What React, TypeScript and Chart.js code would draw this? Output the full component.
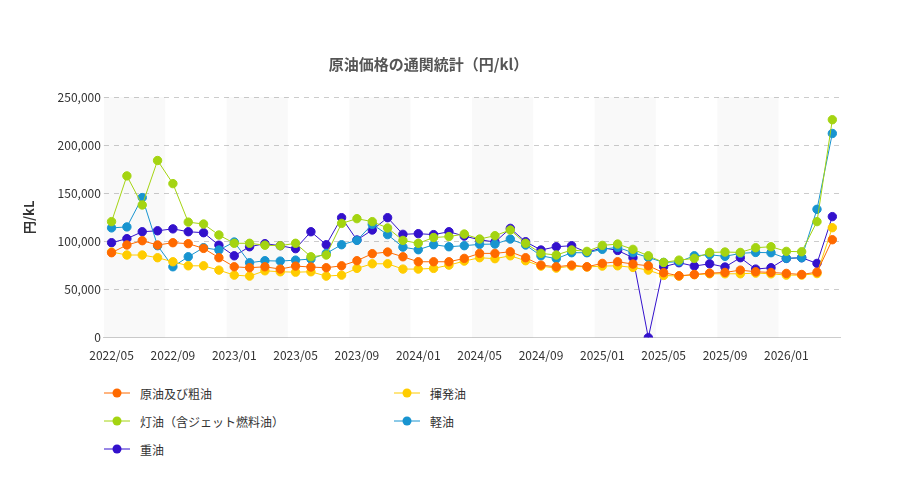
import React, { useEffect, useRef } from "react";
import { Chart, registerables } from "chart.js";
Chart.register(...registerables);

const months: string[] = [];
for (let i = 0; i < 48; i++) {
  const y = 2022 + Math.floor((4 + i) / 12);
  const m = ((4 + i) % 12) + 1;
  months.push(`${y}/${String(m).padStart(2, "0")}`);
}
const crude = [88.2,96.2,100.7,96.2,98.6,97.6,92.7,83,73.6,72.6,73.6,71.2,74.3,73.3,72.6,74.6,79.9,87.2,88.9,84,78.8,78.8,78.8,82.3,87.5,87.5,89.2,83,75.3,73.6,75.3,73.6,77.1,78.8,76.4,74.6,67.4,64.2,65.6,67,67.7,70.1,68.4,67.7,66.7,65.6,68,101.7].map(v=>v*1000);
const gasoline = [88.9,85.8,85.8,83,78.8,74.6,74.6,70.1,64.9,63.9,69.4,68.4,68,68.4,63.9,64.9,71.9,76.7,76.7,71.2,71.2,71.9,75.3,79.5,83,82,85,79.9,74.3,72.2,74.3,73.3,74.3,74.6,72.9,70.1,64.6,63.9,65.3,66.3,66.3,66.3,67,66.3,64.9,64.9,66.5,114.2].map(v=>v*1000);
const kerosene = [120.5,168,137.8,184,160,120,118,106.6,98,98,96,95.5,98,84,85.8,118.7,123.6,120.5,113.9,101,98,104,105,107.6,102.4,105.9,111.8,98,87.5,85.8,91,89.6,95.8,97.2,91.7,85,78.1,80.5,82.3,88.5,88.9,88.5,93.4,94.4,89.6,89.2,120.5,226.4].map(v=>v*1000);
const diesel = [114,115,145.5,95.5,73.6,84,93.4,91,99.3,77.8,79.9,79.5,80.5,81.6,87.5,96.5,101,117.7,107,94,91.3,96.5,94.4,95.5,96.9,97.2,102.4,96.2,85,82,88.2,88.2,91.7,93.8,88.2,83.3,78.1,78.8,85,86.1,84.4,87.5,88.5,88.2,82.3,83,133.3,212.1].map(v=>v*1000);
const fuelOil = [98.6,102.8,110,111,113,110,109,96,85,94.4,97.6,95.5,92.4,110,96.5,124.6,101.4,111.8,124.6,107.3,108,107,110,105.5,101.7,99.3,113.5,99.6,91,94.4,95.5,88.5,93.4,90.6,83,0,73.6,77.8,74.3,76.7,73.3,83,71.2,72.6,82.3,83,77.1,125.7].map(v=>v*1000);

const series = [
  { label: "原油及び粗油", data: crude, color: "#ff6a00" },
  { label: "揮発油", data: gasoline, color: "#ffcc00" },
  { label: "灯油（含ジェット燃料油）", data: kerosene, color: "#a4d411" },
  { label: "軽油", data: diesel, color: "#1894d0" },
  { label: "重油", data: fuelOil, color: "#3311cc" },
];

const FONT = "'Noto Sans CJK JP', 'DejaVu Sans', sans-serif";

const bands = {
  id: "bands",
  beforeDatasetsDraw(chart: any) {
    const { ctx, chartArea, scales } = chart;
    const x = scales.x;
    const step = (x.getPixelForValue(1) - x.getPixelForValue(0));
    ctx.save();
    ctx.fillStyle = "rgba(0,0,0,0.025)";
    for (let i = 0; i < months.length; i += 8) {
      const l = x.getPixelForValue(i) - step / 2;
      const r = Math.min(x.getPixelForValue(i + 3) + step / 2, chartArea.right);
      ctx.fillRect(l, chartArea.top, r - l, chartArea.bottom - chartArea.top);
    }
    ctx.restore();
  },
};

export default function App() {
  const ref = useRef<HTMLCanvasElement>(null);
  useEffect(() => {
    const chart = new Chart(ref.current!, {
      type: "line",
      data: {
        labels: months,
        datasets: series.map((s) => ({
          label: s.label,
          data: s.data,
          borderColor: s.color,
          backgroundColor: s.color,
          pointBackgroundColor: s.color,
          pointBorderColor: s.color,
          borderWidth: 1,
          pointRadius: 4.2,
          tension: 0,
        })),
      },
      plugins: [bands],
      options: {
        animation: false,
        responsive: false,
        layout: { padding: { left: 17, right: 61, top: 40, bottom: 0 } },
        plugins: {
          legend: { display: false },
          tooltip: { enabled: false },
          title: {
            display: true,
            text: "原油価格の通関統計（円/kl）",
            color: "#555",
            font: { family: FONT, size: 15, weight: "bold" },
            padding: { top: 15, bottom: 24 },
          },
        },
        scales: {
          x: {
            offset: true,
            grid: { display: false },
            border: { color: "#ccc" },
            ticks: {
              autoSkip: false,
              maxRotation: 0,
              color: "#333",
              font: { family: FONT, size: 12 },
              callback: (_v: any, i: number) => (i % 4 === 0 ? months[i] : ""),
            },
          },
          y: {
            min: 0,
            max: 250000,
            ticks: {
              stepSize: 50000,
              color: "#333",
              font: { family: FONT, size: 12 },
              callback: (v: any) => Number(v).toLocaleString("en-US"),
            },
            grid: { color: "#ccc", tickLength: 0 },
            border: { display: false, dash: [5, 5] },
            title: {
              display: true,
              text: "円/kL",
              color: "#333",
              padding: { top: 4, bottom: 18 },
              font: { family: FONT, size: 13, weight: "bold" },
            },
          },
        },
      },
    });
    return () => chart.destroy();
  }, []);
  return (
    <div style={{ position: "absolute", left: 0, top: 0, width: 901, height: 488, background: "#fff", fontFamily: FONT }}>
      <canvas ref={ref} width={901} height={366} />
      <div style={{ position: "absolute", left: 104, top: 382, width: 600, display: "flex", flexWrap: "wrap", rowGap: 6 }}>
        {series.map((s) => (
          <div key={s.label} style={{ width: 290, height: 22, display: "flex", alignItems: "center", fontSize: 12, color: "#333" }}>
            <svg width={26} height={12} style={{ marginRight: 10 }}>
              <line x1={0} y1={6} x2={26} y2={6} stroke={s.color} strokeWidth={1} />
              <circle cx={13} cy={6} r={4.5} fill={s.color} />
            </svg>
            {s.label}
          </div>
        ))}
      </div>
    </div>
  );
}
